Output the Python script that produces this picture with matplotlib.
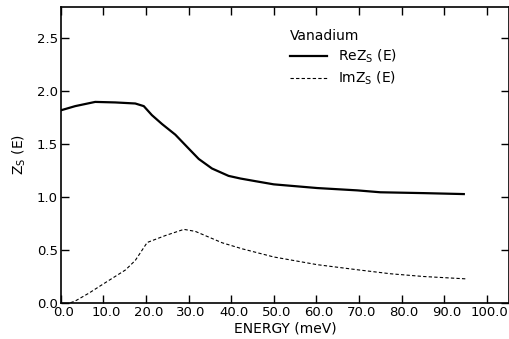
import matplotlib
matplotlib.use('Agg')
import matplotlib.pyplot as plt
import matplotlib.transforms as mtransforms
import numpy as np

plt.rcParams['font.family'] = ['DejaVu Sans']
plt.rcParams['mathtext.default'] = 'regular'

# Re Zs(E)
reE = [0.0, 3.4, 8.1, 12.8, 17.5, 19.5, 21.4, 23.8, 26.9, 30.0, 32.4, 35.5,
       39.4, 42.2, 45.7, 50.0, 60.2, 69.6, 75.0, 85.2, 94.6]
reZ = [1.82, 1.86, 1.90, 1.895, 1.885, 1.86, 1.775, 1.69, 1.59, 1.46, 1.36, 1.27,
       1.20, 1.175, 1.15, 1.12, 1.085, 1.063, 1.045, 1.037, 1.028]

# Im Zs(E)
imE = [2.3, 3.4, 6.6, 9.7, 15.2, 17.5, 20.3, 24.6, 28.9, 31.6, 37.9, 42.6,
       50.0, 60.2, 69.6, 77.4, 85.2, 95.0]
imZ = [0.0, 0.016, 0.09, 0.17, 0.31, 0.40, 0.57, 0.636, 0.694, 0.675, 0.567, 0.51,
       0.433, 0.36, 0.312, 0.274, 0.248, 0.226]

xticks = [0, 10, 20, 30, 40, 50, 60, 70, 80, 90, 100]
yticks = [0.0, 0.5, 1.0, 1.5, 2.0, 2.5]

f = plt.figure(figsize=(5.1, 3.39), dpi=100)
ax = f.add_axes([0.119, 0.107, 0.879, 0.873])

ax.plot(reE, reZ, color='black', lw=1.6, label=r'Re$Z_S$ (E)')
ax.plot(imE, imZ, color='black', lw=0.8, ls=(0, (3, 2)), label=r'Im$Z_S$ (E)')

ax.set_xlim(0, 105.2)
ax.set_ylim(0, 2.80)
ax.set_xticks(xticks)
ax.set_xticklabels([f'{v:.1f}' for v in xticks])
ax.set_yticks(yticks)
ax.set_yticklabels([f'{v:.1f}' for v in yticks])
ax.tick_params(direction='in', length=6, width=1.0, top=True, right=True,
               labelsize=9.5, pad=2)
for s in ax.spines.values():
    s.set_linewidth(1.2)

# x labels sit a little right of their ticks in the original
off = mtransforms.ScaledTranslation(2.5/100, 0, f.dpi_scale_trans)
for lab in ax.get_xticklabels():
    lab.set_transform(lab.get_transform() + off)

ax.set_xlabel('ENERGY (meV)', fontsize=10, labelpad=2)
ax.set_ylabel(r'$Z_S$ (E)', fontsize=10, labelpad=6)

leg = ax.legend(title='Vanadium', loc='upper left', bbox_to_anchor=(0.50, 0.945),
                frameon=False, fontsize=10, title_fontsize=10, handlelength=2.6,
                alignment='left', labelspacing=0.35, borderaxespad=0)

f.savefig('out.png', dpi=100)
